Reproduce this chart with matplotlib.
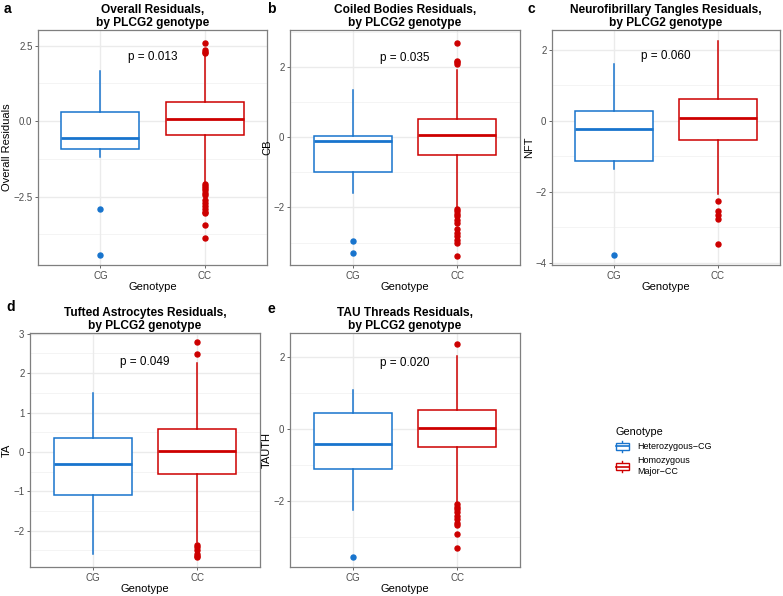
import matplotlib
matplotlib.use("Agg")
import matplotlib.pyplot as plt
from matplotlib.legend_handler import HandlerBase
from matplotlib.patches import Rectangle, Patch
from matplotlib.lines import Line2D

plt.rcParams['font.family'] = ['Liberation Sans', 'DejaVu Sans']

groups = ["CG", "CC"]
colors = ["#1874CD", "#CD0000"]
legend_labels = ["Heterozygous\u2212CG", "Homozygous\nMajor\u2212CC"]

# Panel a: Overall residuals
a_q1 = [-0.94, -0.46]
a_med = [-0.55, 0.07]
a_q3 = [0.30, 0.62]
a_lo = [-1.19, -2.02]
a_hi = [1.67, 2.22]
a_fl_cg = [-2.93, -4.45]
a_fl_cc = [2.60, 2.36, 2.30, 2.26, -2.08, -2.15, -2.22, -2.30, -2.38, -2.45, -2.60,
           -2.70, -2.80, -2.90, -3.00, -3.05, -3.45, -3.89]

# Panel b: Coiled bodies
b_q1 = [-0.98, -0.50]
b_med = [-0.11, 0.07]
b_q3 = [0.05, 0.52]
b_lo = [-1.58, -1.98]
b_hi = [1.34, 1.93]
b_fl_cg = [-2.95, -3.29]
b_fl_cc = [2.69, 2.18, 2.14, 2.10, -2.03, -2.10, -2.18, -2.25, -2.35, -2.45, -2.62,
           -2.72, -2.82, -2.92, -3.00, -3.37]

# Panel c: Neurofibrillary tangles
c_q1 = [-1.13, -0.53]
c_med = [-0.24, 0.08]
c_q3 = [0.28, 0.61]
c_lo = [-1.36, -2.05]
c_hi = [1.59, 2.25]
c_fl_cg = [-3.77]
c_fl_cc = [-2.27, -2.53, -2.66, -2.77, -3.47]

# Panel d: Tufted astrocytes
d_q1 = [-1.08, -0.55]
d_med = [-0.31, 0.03]
d_q3 = [0.36, 0.59]
d_lo = [-2.60, -2.29]
d_hi = [1.49, 2.25]
d_fl_cg = []
d_fl_cc = [2.79, 2.49, -2.35, -2.42, -2.50, -2.58, -2.63, -2.67]

# Panel e: TAU threads
e_q1 = [-1.11, -0.50]
e_med = [-0.42, 0.04]
e_q3 = [0.44, 0.54]
e_lo = [-2.23, -2.03]
e_hi = [1.09, 2.03]
e_fl_cg = [-3.55]
e_fl_cc = [2.36, -2.07, -2.15, -2.22, -2.30, -2.40, -2.50, -2.60, -2.65, -2.90, -3.28]

p_values = ["p = 0.013", "p = 0.035", "p = 0.060", "p = 0.049", "p = 0.020"]
p_y = [2.12, 2.27, 1.83, 2.29, 1.83]
titles = ["Overall Residuals,\nby PLCG2 genotype",
          "Coiled Bodies Residuals,\nby PLCG2 genotype",
          "Neurofibrillary Tangles Residuals,\nby PLCG2 genotype",
          "Tufted Astrocytes Residuals,\nby PLCG2 genotype",
          "TAU Threads Residuals,\nby PLCG2 genotype"]
ylabels = ["Overall Residuals", "CB", "NFT", "TA", "TAUTH"]
letters = ["a", "b", "c", "d", "e"]
ylims = [(-4.77, 3.02), (-3.64, 3.06), (-4.06, 2.55), (-2.92, 3.02), (-3.82, 2.66)]
yticks = [[-2.5, 0, 2.5], [-2, 0, 2], [-4, -2, 0, 2], [-2, -1, 0, 1, 2, 3], [-2, 0, 2]]
yminor = [[-3.75, -1.25, 1.25], [-3, -1, 1, 3], [-3, -1, 1], [-2.5, -1.5, -0.5, 0.5, 1.5, 2.5], [-3, -1, 1]]
ytickfmt = ["{:.1f}", "{:g}", "{:g}", "{:g}", "{:g}"]

panels = [
    (a_q1, a_med, a_q3, a_lo, a_hi, a_fl_cg, a_fl_cc),
    (b_q1, b_med, b_q3, b_lo, b_hi, b_fl_cg, b_fl_cc),
    (c_q1, c_med, c_q3, c_lo, c_hi, c_fl_cg, c_fl_cc),
    (d_q1, d_med, d_q3, d_lo, d_hi, d_fl_cg, d_fl_cc),
    (e_q1, e_med, e_q3, e_lo, e_hi, e_fl_cg, e_fl_cc),
]

W, H = 783, 596
fig = plt.figure(figsize=(W / 100, H / 100), dpi=100)

rects = [(38, 30, 267, 265), (290, 30, 520, 265), (552, 30, 780, 265),
         (30, 333, 260, 567), (290, 333, 520, 567)]
letter_pos = [(4, 9), (267, 9), (527, 9), (6, 307), (267, 309)]


def add_ax(r):
    x0, y0, x1, y1 = r
    return fig.add_axes([x0 / W, 1 - y1 / H, (x1 - x0) / W, (y1 - y0) / H])


for i, (q1, med, q3, lo, hi, fcg, fcc) in enumerate(panels):
    ax = add_ax(rects[i])
    ax.set_facecolor("white")
    for yv in yminor[i]:
        ax.axhline(yv, color="#F2F2F2", lw=0.6, zorder=0)
    for yv in yticks[i]:
        ax.axhline(yv, color="#EBEBEB", lw=1.0, zorder=0)
    for xv in [1, 2]:
        ax.axvline(xv, color="#EBEBEB", lw=1.0, zorder=0)
    fliers = [fcg, fcc]
    for g in range(2):
        st = [dict(med=med[g], q1=q1[g], q3=q3[g], whislo=lo[g], whishi=hi[g],
                   fliers=fliers[g], label=groups[g])]
        c = colors[g]
        ax.bxp(st, positions=[g + 1], widths=0.75, patch_artist=True, showcaps=False,
               boxprops=dict(facecolor="white", edgecolor=c, linewidth=1.1),
               whiskerprops=dict(color=c, linewidth=1.1),
               medianprops=dict(color=c, linewidth=2.0),
               flierprops=dict(marker="o", markerfacecolor=c, markeredgecolor=c,
                               markersize=3.6, linestyle="none"),
               zorder=2)
    ax.set_xlim(0.4, 2.6)
    ax.set_ylim(*ylims[i])
    ax.set_xticks([1, 2])
    ax.set_xticklabels(groups)
    ax.set_yticks(yticks[i])
    ax.set_yticklabels([ytickfmt[i].format(v).replace("-", "\u2212") for v in yticks[i]])
    ax.tick_params(axis="both", labelsize=7, colors="#4D4D4D", length=2.5, width=0.6,
                   pad=1.5)
    for sp in ax.spines.values():
        sp.set_color("#7F7F7F")
        sp.set_linewidth(0.9)
    ax.set_xlabel("Genotype", fontsize=8, labelpad=1)
    ax.set_ylabel(ylabels[i], fontsize=8, labelpad=1)
    ax.set_title(titles[i], fontsize=8.6, fontweight="bold", pad=3, linespacing=1.05)
    ax.text(1.5, p_y[i], p_values[i], ha="center", va="center", fontsize=8.5)
    lx, ly = letter_pos[i]
    fig.text(lx / W, 1 - ly / H, letters[i], fontsize=10, fontweight="bold",
             ha="left", va="center")


class BoxHandler(HandlerBase):
    def create_artists(self, legend, orig_handle, xdescent, ydescent, width, height,
                       fontsize, trans):
        c = orig_handle.get_edgecolor()
        cx = -xdescent + width / 2
        by = -ydescent
        bw = width
        arts = []
        arts.append(Line2D([cx, cx], [by, by + height * 0.22], color=c,
                           lw=1.0, transform=trans))
        arts.append(Line2D([cx, cx], [by + height * 0.78, by + height], color=c,
                           lw=1.0, transform=trans))
        arts.append(Rectangle((cx - bw / 2, by + height * 0.22), bw, height * 0.56,
                              facecolor="white", edgecolor=c, lw=1.0, transform=trans))
        arts.append(Line2D([cx - bw / 2, cx + bw / 2], [by + height * 0.5] * 2, color=c,
                           lw=1.2, transform=trans))
        return arts


handles = [Patch(edgecolor=colors[0], facecolor="white"),
           Patch(edgecolor=colors[1], facecolor="white")]
leg = fig.legend(handles, legend_labels, title="Genotype", loc="upper left",
                 bbox_to_anchor=(612 / W, 1 - 423 / H), frameon=False, fontsize=6.5,
                 title_fontsize=7.8, handler_map={Patch: BoxHandler()},
                 handlelength=1.45, handleheight=1.6, handletextpad=0.9,
                 labelspacing=0.45, alignment="left", borderaxespad=0, borderpad=0.4)

fig.savefig("out.png", dpi=100, facecolor="white")
